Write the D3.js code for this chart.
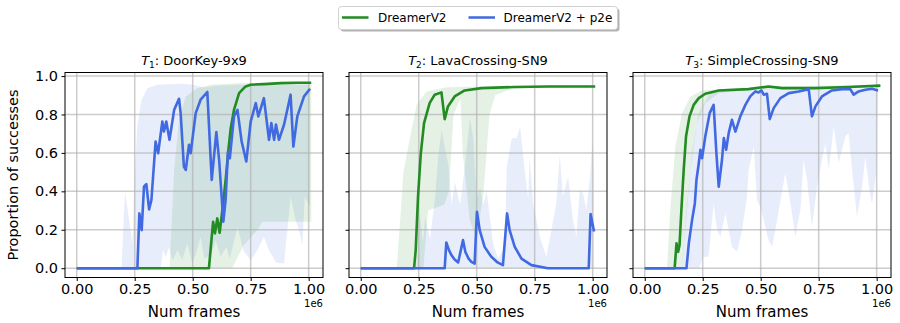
<!DOCTYPE html>
<html>
<head>
<meta charset="utf-8">
<script src="https://cdn.jsdelivr.net/npm/d3@7"></script>
<style>
body { margin: 0; background: #fff; }
text { font-family: "DejaVu Sans", sans-serif; fill: #000; font-weight: normal; }
</style>
</head>
<body>
<div id="chart"></div>
<script>
// frames are in units of 1e6
var seriesNames = ["DreamerV2", "DreamerV2 + p2e"];
var panelTitles = [["1", ": DoorKey-9x9"], ["2", ": LavaCrossing-SN9"], ["3", ": SimpleCrossing-SN9"]];
var xTicks = [0, 0.25, 0.5, 0.75, 1.0];
var yTicks = [0, 0.2, 0.4, 0.6, 0.8, 1.0];

// T1 DoorKey
var doorGreen = [[0,0],[0.57,0],[0.588,0.242],[0.596,0.181],[0.606,0.259],[0.616,0.184],[0.628,0.303],[0.642,0.459],[0.654,0.616],[0.664,0.729],[0.678,0.824],[0.70,0.911],[0.728,0.946],[0.75,0.955],[0.807,0.958],[0.879,0.963],[0.951,0.965],[1.011,0.965]];
var doorGreenHi = [[0,0],[0.40,0],[0.42,0.51],[0.441,0.772],[0.47,0.894],[0.52,0.937],[0.578,0.955],[0.693,0.963],[1.011,0.967]];
var doorGreenLo = [[0,0],[0.67,0],[0.72,0.12],[0.78,0.2],[0.80,0.242],[1.011,0.242]];
var doorBlue = [[0,0],[0.2615,0],[0.27,0.285],[0.28,0.198],[0.29,0.424],[0.30,0.438],[0.312,0.306],[0.322,0.355],[0.34,0.659],[0.351,0.598],[0.369,0.763],[0.376,0.711],[0.386,0.763],[0.40,0.668],[0.42,0.824],[0.441,0.882],[0.448,0.807],[0.462,0.529],[0.47,0.511],[0.484,0.642],[0.491,0.598],[0.513,0.807],[0.534,0.877],[0.563,0.917],[0.582,0.459],[0.602,0.708],[0.614,0.563],[0.632,0.242],[0.642,0.355],[0.652,0.607],[0.66,0.572],[0.678,0.79],[0.693,0.824],[0.711,0.659],[0.731,0.555],[0.75,0.763],[0.772,0.859],[0.783,0.79],[0.807,0.885],[0.829,0.668],[0.839,0.755],[0.851,0.668],[0.859,0.748],[0.872,0.668],[0.894,0.748],[0.922,0.903],[0.934,0.633],[0.951,0.79],[0.98,0.894],[1.006,0.934]];
var doorBlueHi = [[0,0],[0.193,0],[0.208,0.398],[0.226,0.25],[0.24,0.129],[0.25,0.477],[0.261,0.737],[0.279,0.877],[0.305,0.937],[0.348,0.955],[0.45,0.96],[0.5,0.955],[0.55,0.94],[0.6,0.95],[0.7,0.955],[0.85,0.955],[1.006,0.955]];
var doorBlueLo = [[0,0],[0.362,0],[0.372,0.094],[0.384,0.06],[0.398,0.111],[0.413,0.04],[0.434,0.094],[0.455,0.045],[0.477,0.129],[0.498,0.03],[0.513,0.07],[0.534,0.163],[0.55,0.05],[0.58,0.07],[0.599,0.146],[0.62,0.06],[0.645,0.11],[0.66,0.05],[0.693,0.216],[0.72,0.09],[0.75,0.04],[0.779,0.094],[0.807,0.163],[0.83,0.09],[0.86,0.03],[0.894,0.024],[0.922,0.372],[0.944,0.25],[0.958,0.2],[0.973,0.12],[0.983,0.372],[1.006,0.32]];

// T2 LavaCrossing
var lavaGreen = [[0,0],[0.23,0],[0.237,0.094],[0.247,0.372],[0.259,0.598],[0.273,0.755],[0.297,0.859],[0.319,0.903],[0.348,0.915],[0.362,0.776],[0.376,0.842],[0.405,0.894],[0.448,0.925],[0.52,0.937],[0.664,0.943],[0.807,0.946],[1.011,0.946]];
var lavaGreenHi = [[0,0],[0.155,0],[0.17,0.25],[0.184,0.5],[0.212,0.676],[0.241,0.85],[0.284,0.92],[0.371,0.942],[0.5,0.945],[1.011,0.947]];
var lavaGreenLo = [[0,0],[0.27,0],[0.29,0.3],[0.36,0.33],[0.38,0.4],[0.40,0.8],[0.43,0.88],[0.44,0.6],[0.47,0.25],[0.50,0.15],[0.53,0.4],[0.555,0.8],[0.58,0.9],[0.65,0.935],[1.011,0.945]];
var lavaBlue = [[0,0],[0.362,0],[0.369,0.134],[0.38,0.095],[0.391,0.068],[0.405,0.045],[0.42,0.03],[0.441,0.146],[0.451,0.085],[0.465,0.05],[0.477,0.033],[0.491,0.024],[0.501,0.294],[0.513,0.198],[0.534,0.111],[0.563,0.059],[0.59,0.03],[0.613,0.016],[0.631,0.285],[0.642,0.198],[0.664,0.111],[0.693,0.05],[0.736,0.016],[0.807,0],[0.983,0],[0.991,0.282],[1.006,0.191]];
var lavaBlueHi = [[0,0],[0.24,0],[0.254,0.285],[0.269,0.13],[0.277,0.26],[0.299,0.155],[0.32,0.363],[0.335,0.59],[0.349,0.72],[0.363,0.624],[0.378,0.537],[0.392,0.329],[0.406,0.45],[0.428,0.329],[0.45,0.537],[0.471,0.78],[0.485,0.676],[0.5,0.363],[0.515,0.42],[0.528,0.329],[0.543,0.398],[0.572,0.12],[0.593,0.05],[0.622,0.12],[0.629,0.52],[0.651,0.676],[0.672,0.676],[0.687,0.737],[0.708,0.5],[0.722,0.363],[0.728,0.58],[0.743,0.337],[0.772,0.163],[0.8,0.059],[0.822,0.198],[0.843,0.337],[0.858,0.59],[0.872,0.372],[0.894,0.477],[0.915,0.25],[0.93,0.163],[0.944,0.407],[0.958,0.39],[0.973,0.303],[0.987,0.459],[1.0,0.668],[1.006,0.51]];
var lavaBlueLo = [[0,0],[1.006,0]];

// T3 SimpleCrossing
var simpleGreen = [[0,0],[0.129,0],[0.137,0.129],[0.144,0.085],[0.15,0.12],[0.158,0.303],[0.168,0.511],[0.178,0.685],[0.193,0.79],[0.211,0.85],[0.233,0.885],[0.261,0.908],[0.319,0.925],[0.448,0.932],[0.534,0.946],[0.592,0.937],[0.736,0.937],[0.879,0.943],[1.016,0.95]];
var simpleGreenHi = [[0,0],[0.096,0],[0.11,0.3],[0.132,0.633],[0.161,0.807],[0.197,0.894],[0.247,0.925],[0.5,0.945],[1.016,0.955]];
var simpleGreenLo = [[0,0],[0.161,0],[0.197,0.51],[0.226,0.755],[0.261,0.86],[0.319,0.91],[0.45,0.93],[1.016,0.94]];
var simpleBlue = [[0,0],[0.18,0],[0.19,0.129],[0.204,0.25],[0.216,0.337],[0.223,0.459],[0.233,0.546],[0.24,0.616],[0.247,0.572],[0.261,0.685],[0.28,0.807],[0.297,0.85],[0.309,0.598],[0.319,0.424],[0.333,0.563],[0.341,0.677],[0.351,0.616],[0.362,0.703],[0.376,0.772],[0.391,0.711],[0.412,0.79],[0.434,0.85],[0.455,0.894],[0.477,0.92],[0.491,0.915],[0.503,0.925],[0.513,0.903],[0.527,0.908],[0.539,0.776],[0.556,0.833],[0.585,0.885],[0.621,0.911],[0.664,0.92],[0.707,0.932],[0.721,0.79],[0.736,0.842],[0.764,0.894],[0.807,0.925],[0.851,0.932],[0.886,0.932],[0.901,0.903],[0.922,0.92],[0.951,0.929],[0.98,0.934],[1.006,0.925]];
var simpleBlueHi = [[0,0],[0.16,0],[0.182,0.337],[0.204,0.6],[0.233,0.807],[0.276,0.9],[0.319,0.932],[0.5,0.935],[1.006,0.935]];
var simpleBlueLo = [[0,0],[0.233,0],[0.254,0.06],[0.275,0.06],[0.297,0.337],[0.312,0.2],[0.326,0.163],[0.348,0.285],[0.376,0.111],[0.398,0.085],[0.42,0.2],[0.441,0.372],[0.448,0.511],[0.47,0.633],[0.484,0.355],[0.498,0.32],[0.513,0.25],[0.534,0.146],[0.549,0.111],[0.563,0.198],[0.578,0.303],[0.606,0.494],[0.621,0.39],[0.635,0.285],[0.649,0.163],[0.671,0.303],[0.685,0.563],[0.7,0.459],[0.721,0.216],[0.743,0.424],[0.764,0.563],[0.779,0.65],[0.793,0.511],[0.815,0.737],[0.836,0.546],[0.865,0.685],[0.879,0.703],[0.894,0.511],[0.915,0.268],[0.937,0.424],[0.951,0.58],[0.973,0.372],[0.98,0.337],[1.0,0.511]];

var panels = [
	{green: doorGreen, greenHi: doorGreenHi, greenLo: doorGreenLo, blue: doorBlue, blueHi: doorBlueHi, blueLo: doorBlueLo},
	{green: lavaGreen, greenHi: lavaGreenHi, greenLo: lavaGreenLo, blue: lavaBlue, blueHi: lavaBlueHi, blueLo: lavaBlueLo},
	{green: simpleGreen, greenHi: simpleGreenHi, greenLo: simpleGreenLo, blue: simpleBlue, blueHi: simpleBlueHi, blueLo: simpleBlueLo}
];

var colGreen = "#228b22", colBlue = "#4169e1";
var width = 900, height = 323;
var lefts = [65, 349, 633], plotTop = 72.5, pw = 258, ph = 205;

var svg = d3.select("#chart").append("svg")
	.attr("width", width).attr("height", height);

var x = d3.scaleLinear().domain([-0.0506, 1.0618]).range([0, pw]);
var y = d3.scaleLinear().domain([-0.0485, 1.0185]).range([ph, 0]);

var line = d3.line().x(function (d) { return x(d[0]); }).y(function (d) { return y(d[1]); });

function band(hi, lo) {
	return line(hi.concat(lo.slice().reverse())) + "Z";
}

panels.forEach(function (p, i) {
	var g = svg.append("g").attr("transform", "translate(" + lefts[i] + "," + plotTop + ")");

	g.append("path").attr("d", band(p.blueHi, p.blueLo))
		.attr("fill", colBlue).attr("fill-opacity", 0.12);
	g.append("path").attr("d", band(p.greenHi, p.greenLo))
		.attr("fill", colGreen).attr("fill-opacity", 0.12);

	g.selectAll(".gx").data(xTicks).enter().append("line")
		.attr("x1", x).attr("x2", x).attr("y1", 0).attr("y2", ph)
		.attr("stroke", "#b0b0b0").attr("stroke-opacity", 0.65).attr("stroke-width", 1.5);
	g.selectAll(".gy").data(yTicks).enter().append("line")
		.attr("y1", y).attr("y2", y).attr("x1", 0).attr("x2", pw)
		.attr("stroke", "#b0b0b0").attr("stroke-opacity", 0.65).attr("stroke-width", 1.5);

	g.append("path").attr("d", line(p.green)).attr("fill", "none")
		.attr("stroke", colGreen).attr("stroke-width", 2.6).attr("stroke-linejoin", "round");
	g.append("path").attr("d", line(p.blue)).attr("fill", "none")
		.attr("stroke", colBlue).attr("stroke-width", 2.6).attr("stroke-linejoin", "round");

	g.append("rect").attr("width", pw).attr("height", ph)
		.attr("fill", "none").attr("stroke", "#000").attr("stroke-width", 1);

	var ax = g.append("g").attr("transform", "translate(0," + ph + ")")
		.call(d3.axisBottom(x).tickValues(xTicks).tickFormat(d3.format(".2f")).tickSize(3.5).tickPadding(3));
	ax.select(".domain").remove();
	ax.selectAll("text").attr("font-size", 14.5).attr("font-family", "DejaVu Sans");

	var ay = g.append("g")
		.call(d3.axisLeft(y).tickValues(yTicks).tickFormat(i == 0 ? d3.format(".1f") : "").tickSize(3.5).tickPadding(3.5));
	ay.select(".domain").remove();
	ay.selectAll("text").attr("font-size", 14.5).attr("font-family", "DejaVu Sans");

	var t = g.append("text").attr("x", pw / 2).attr("y", -7.5)
		.attr("text-anchor", "middle").attr("font-size", 13);
	t.append("tspan").attr("font-style", "italic").text("T");
	t.append("tspan").attr("font-size", 9).attr("dy", 3).text(panelTitles[i][0]);
	t.append("tspan").attr("dy", -3).text(panelTitles[i][1]);

	g.append("text").attr("x", pw / 2).attr("y", ph + 39)
		.attr("text-anchor", "middle").attr("font-size", 15).text("Num frames");
	g.append("text").attr("x", pw).attr("y", ph + 29)
		.attr("text-anchor", "end").attr("font-size", 10).text("1e6");
});

svg.append("text")
	.attr("transform", "translate(18," + (plotTop + ph / 2) + ") rotate(-90)")
	.attr("text-anchor", "middle").attr("font-size", 14.5).text("Proportion of successes");

// legend
var lg = svg.append("g").attr("transform", "translate(338.5,6.5)");
lg.append("rect").attr("x", 2).attr("y", 2).attr("width", 279).attr("height", 23).attr("rx", 3)
	.attr("fill", "#000").attr("fill-opacity", 0.3);
lg.append("rect").attr("width", 279).attr("height", 23).attr("rx", 3)
	.attr("fill", "#fff").attr("stroke", "#d0d0d0").attr("stroke-width", 1);
var items = [[colGreen, 3.5, 39.5], [colBlue, 130, 165]];
items.forEach(function (it, k) {
	lg.append("line").attr("x1", it[1]).attr("x2", it[1] + 26.5).attr("y1", 11).attr("y2", 11)
		.attr("stroke", it[0]).attr("stroke-width", 2.5);
	lg.append("text").attr("x", it[2]).attr("y", 15.5).attr("font-size", 12).text(seriesNames[k]);
});
</script>
</body>
</html>
